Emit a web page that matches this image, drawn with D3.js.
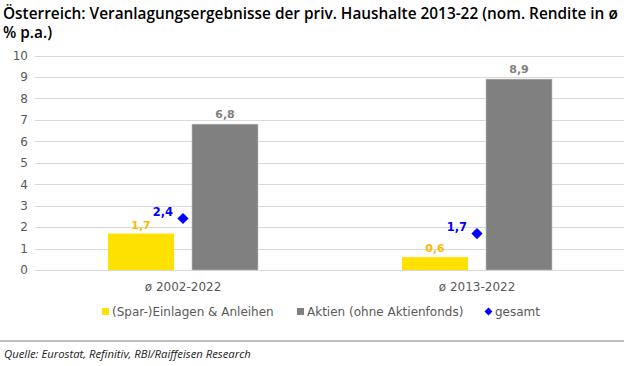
<!DOCTYPE html>
<html><head><meta charset="utf-8">
<script src="https://cdn.jsdelivr.net/npm/d3@7"></script>
<style>body{margin:0;background:#fff}svg{display:block}</style>
</head><body>
<script>
const categories = ["ø 2002-2022", "ø 2013-2022"];
const seriesNames = ["(Spar-)Einlagen & Anleihen", "Aktien (ohne Aktienfonds)", "gesamt"];
const einlagen = [1.7, 0.6];
const aktien = [6.8, 8.9];
const gesamt = [2.4, 1.7];
const yTicks = [0,1,2,3,4,5,6,7,8,9,10];

const W = 624, H = 366;
const colors = {ein: "#FFE100", akt: "#808080", ges: "#0000FF"};
const axisFont = "'DejaVu Sans', sans-serif";
const svg = d3.select("body").append("svg").attr("width", W).attr("height", H);

// Title
const title = svg.append("g").attr("font-family", "'Open Sans', sans-serif").attr("font-weight", 600).attr("fill", "#000");
const t1 = title.append("text").attr("x", 3).attr("y", 19).attr("font-size", 15)
  .text("Österreich: Veranlagungsergebnisse der priv. Haushalte 2013-22 (nom. Rendite in ø");
const t2 = title.append("text").attr("x", 3).attr("y", 38).attr("font-size", 15).text("% p.a.)");
const target = 615;
const len = t1.node().getComputedTextLength();
const fs = 15 * target / len;
t1.attr("font-size", fs); t2.attr("font-size", fs);

const y = d3.scaleLinear().domain([0, 10]).range([270, 55.5]);
const x0 = d3.scaleBand().domain(categories).range([36, 624]);
const x1 = d3.scaleBand().domain(["ein", "akt"]).range([72, 222]).paddingInner(0.214);

// grid
svg.append("g").selectAll("line").data(yTicks).join("line")
  .attr("x1", 35).attr("x2", 624).attr("y1", d => Math.round(y(d)) + 0.5).attr("y2", d => Math.round(y(d)) + 0.5)
  .attr("stroke", "#d9d9d9").attr("stroke-width", 1);

// y axis labels
const yAxis = d3.axisLeft(y).tickValues(yTicks).tickSize(0).tickPadding(0).tickFormat(d3.format("d"));
const ya = svg.append("g").attr("transform", "translate(28,0)").call(yAxis);
ya.select(".domain").remove();
ya.selectAll("text").attr("font-family", axisFont).attr("font-size", 12).attr("fill", "#595959");

// bars
const groups = svg.append("g").selectAll("g").data(categories).join("g")
  .attr("transform", d => `translate(${x0(d)},0)`);
groups.append("rect")
  .attr("x", x1("ein")).attr("width", x1.bandwidth())
  .attr("y", (d, i) => y(einlagen[i])).attr("height", (d, i) => y(0) - y(einlagen[i]))
  .attr("fill", colors.ein);
groups.append("rect")
  .attr("x", x1("akt")).attr("width", x1.bandwidth())
  .attr("y", (d, i) => y(aktien[i])).attr("height", (d, i) => y(0) - y(aktien[i]))
  .attr("fill", colors.akt).attr("stroke", "#bfbfbf").attr("stroke-width", 0.6);

const fmt = v => d3.format(".1f")(v).replace(".", ",");
groups.append("text")
  .attr("x", x1("ein") + x1.bandwidth() / 2).attr("y", (d, i) => y(einlagen[i]) - 5)
  .attr("text-anchor", "middle").attr("font-family", axisFont).attr("font-weight", "bold").attr("font-size", 11)
  .attr("fill", "#FFB800").text((d, i) => fmt(einlagen[i]));
groups.append("text")
  .attr("x", x1("akt") + x1.bandwidth() / 2).attr("y", (d, i) => y(aktien[i]) - 6)
  .attr("text-anchor", "middle").attr("font-family", axisFont).attr("font-weight", "bold").attr("font-size", 11)
  .attr("fill", "#7f7f7f").text((d, i) => fmt(aktien[i]));

// gesamt diamonds
const bw = x0.bandwidth();
const diamond = d3.symbol().type(d3.symbolDiamond2).size(80);
groups.append("path")
  .attr("d", diamond)
  .attr("transform", (d, i) => `translate(${bw / 2},${y(gesamt[i])})`)
  .attr("fill", colors.ges);
groups.append("text")
  .attr("x", bw / 2 - 10).attr("y", (d, i) => y(gesamt[i]) - 3)
  .attr("text-anchor", "end").attr("font-family", axisFont).attr("font-weight", "bold").attr("font-size", 11.5)
  .attr("fill", colors.ges).text((d, i) => fmt(gesamt[i]));

// x axis labels
const xAxis = d3.axisBottom(x0).tickSize(0).tickPadding(0);
const xa = svg.append("g").attr("transform", "translate(0,282)").call(xAxis);
xa.select(".domain").remove();
xa.selectAll("text").attr("font-family", axisFont).attr("font-size", 12).attr("fill", "#595959");

// legend
const leg = svg.append("g").attr("font-family", axisFont).attr("font-size", 12).attr("fill", "#595959");
const legX = [102, 297, 485];
leg.append("rect").attr("x", legX[0]).attr("y", 308).attr("width", 7).attr("height", 7).attr("fill", colors.ein);
leg.append("rect").attr("x", legX[1]).attr("y", 308).attr("width", 7).attr("height", 7).attr("fill", colors.akt);
leg.append("path").attr("d", d3.symbol().type(d3.symbolDiamond2).size(40)).attr("transform", `translate(${legX[2] + 3.5},311.5)`).attr("fill", colors.ges);
seriesNames.forEach((s, i) => {
  leg.append("text").attr("x", legX[i] + 10).attr("y", 316).text(s);
});

// footer
svg.append("line").attr("x1", 0).attr("x2", 624).attr("y1", 341).attr("y2", 341).attr("stroke", "#bfbfbf").attr("stroke-width", 2);
svg.append("text").attr("x", 4).attr("y", 358).attr("font-family", "'Open Sans', sans-serif").attr("font-style", "italic")
  .attr("font-size", 11.3).attr("fill", "#222").text("Quelle: Eurostat, Refinitiv, RBI/Raiffeisen Research");
</script>
</body></html>
